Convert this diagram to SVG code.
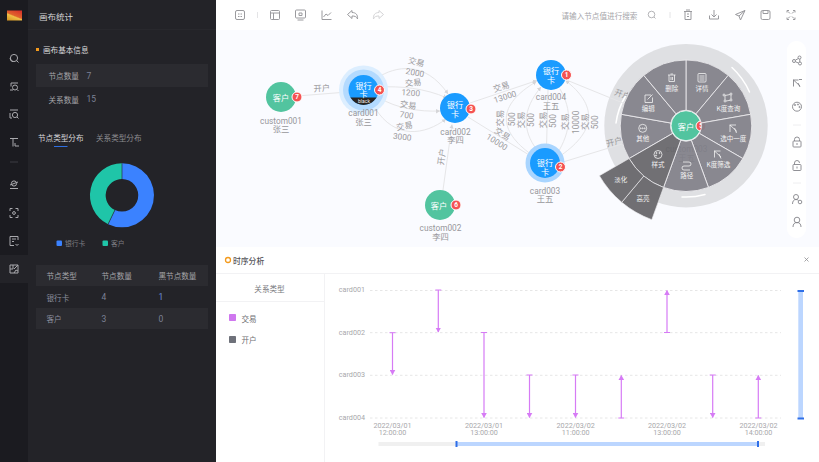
<svg xmlns="http://www.w3.org/2000/svg" width="819" height="462" viewBox="0 0 819 462">
<style>
text{font-family:"Noto Sans CJK SC","Noto Sans",sans-serif;text-anchor:middle;dominant-baseline:central}
.lat{font-family:"Roboto","Noto Sans CJK SC",sans-serif}
.l{text-anchor:start}
.side{font-size:7.6px;fill:#a5a5a9}
.val{font-size:8.5px;fill:#7d8296}
.bright{fill:#d8d8da}
.rail{fill:none;stroke:#a9a9ad;stroke-width:1}
.tool{fill:none;stroke:#9a9a9e;stroke-width:1}
.rt{fill:none;stroke:#85858a;stroke-width:.9}
.edge{fill:none;stroke:#e6e6e8;stroke-width:1;marker-end:url(#ah)}
.el{font-size:8.3px;fill:#9a9a9d}
.nl{font-size:8.3px;fill:#97979b}
.nt{font-size:8.2px;fill:#fff}
.blue{fill:#1a9bff}
.green{fill:#52c49f}
.badge{fill:#f55353;stroke:#fff;stroke-width:1}
.bt{font-size:6.5px;fill:#fff;font-weight:700}
.sec{fill:#82818a;fill-opacity:.93;stroke:#ecebee;stroke-width:.8}
.sec2{fill:#68676c;fill-opacity:.95;stroke:#ecebee;stroke-width:.6}
.mt{font-size:6.5px;fill:#f2f2f2}
.mi{fill:none;stroke:#f2f2f2;stroke-width:.8}
.grid{stroke:#e6e6e6;stroke-width:1;stroke-dasharray:2.5 2.5}
.seq{stroke:#d67bf5;stroke-width:1.2;fill:none;marker-start:url(#cap);marker-end:url(#seqh)}
.ax{font-size:7.2px;fill:#a8a8ab;font-family:"Roboto","Noto Sans CJK SC",sans-serif}
.ay{font-size:7.2px;fill:#a8a8ab;text-anchor:end;font-family:"Roboto",sans-serif}
</style>
<defs>
<marker id="ah" markerUnits="userSpaceOnUse" markerWidth="6" markerHeight="6" refX="4" refY="3" orient="auto"><path d="M0 .8L4 3L0 5.2Z" fill="#d5d5d8"/></marker>
<marker id="seqh" markerUnits="userSpaceOnUse" markerWidth="6" markerHeight="6" refX="4.500" refY="3" orient="auto"><path d="M0 .2L5 3L0 5.800Z" fill="#d67bf5"/></marker>
<marker id="cap" markerUnits="userSpaceOnUse" markerWidth="2" markerHeight="7" refX="1" refY="3.500" orient="auto"><path d="M1 .5V6.500" stroke="#d67bf5" fill="none"/></marker>
<linearGradient id="logo" x1="0.8" y1="0" x2="0.2" y2="1"><stop offset="0" stop-color="#d9342b"/><stop offset=".5" stop-color="#e0632c"/><stop offset=".6" stop-color="#f0c048"/><stop offset="1" stop-color="#d99a25"/></linearGradient>
<clipPath id="bandclip"><circle cx="363.500" cy="90" r="15"/></clipPath>
<path id="s" d="M0 -15.500L0 -65.700A65.700 65.700 0 0 1 42.230 -50.330L9.960 -11.870A15.500 15.500 0 0 0 0 -15.500Z"/>
<path id="s2" d="M0 -65.700L0 -100A100 100 0 0 1 34.200 -93.970L22.470 -61.740A65.700 65.700 0 0 0 0 -65.700Z"/>
</defs>

<rect width="819" height="462" fill="#fff"/>
<rect x="216" y="30" width="603" height="217" fill="#fafbff"/>

<g id="rail">
<rect width="28" height="462" fill="#1b1b20"/>
<rect y="255" width="28" height="28" fill="#232328"/>
<rect x="7" y="10.500" width="15" height="10" fill="url(#logo)"/>
<g class="rail">
<circle cx="14" cy="58" r="3.600"/><path d="M10 58a4 4 0 0 0 3 3.800M16.500 60.500l2 2"/>
<path d="M18 83H11v3.500M10 90h3"/><circle cx="15" cy="87.500" r="2.500"/><path d="M17 89.500l1.500 1.500"/>
<path d="M10 110h8M10 113v5M10 118h2"/><circle cx="15" cy="115" r="2.600"/><path d="M17 117l1.500 1.500"/>
<path d="M10 138.500h8M13 138.500v8M15 143v3h4"/>
<path d="M10 162h8" stroke="#3c3c42"/>
<circle cx="14" cy="183.500" r="2.600"/><path d="M10 185l8-3M10 188.500h8"/>
<path d="M10 211v-2.500h2.500M18 211v-2.500h-2.500M10 215v2.500h2.500M18 215v2.500h-2.500"/><circle cx="14" cy="213" r="1.400"/>
<path d="M18 240v-3.500h-8v9h4M12 239h4M12 241.500h2"/><path d="M15.500 244l1.500 1.500 1.500-1.500"/>
<path d="M10 265h8v8h-8zM10 269h3v-4M14 269l4-4M14 273l2-3 2 1"/>
</g>
</g>

<g id="panel">
<rect x="28" width="188" height="462" fill="#232328"/>
<path d="M28 29.500H216" stroke="#28282d"/>
<text class="l" x="39" y="15.500" font-size="8.500" fill="#d4d4d6">画布统计</text>
<rect x="36" y="48" width="3" height="3" fill="#f39a1d"/>
<text class="l side bright" x="43" y="49.500">画布基本信息</text>
<rect x="36" y="64" width="172" height="23" fill="#2b2b30"/>
<text class="l side" x="48.500" y="75.500">节点数量</text><text class="l val lat" x="86.500" y="75.500">7</text>
<text class="l side" x="48.500" y="99">关系数量</text><text class="l val lat" x="86.500" y="99">15</text>
<text class="l side bright" x="38" y="137">节点类型分布</text>
<text class="l side" x="96" y="137" style="fill:#8d8d91">关系类型分布</text>
<rect x="54" y="146" width="13.500" height="1" fill="#2f6fe0"/>
<path d="M122 163.300A32 32 0 1 1 108.120 224.130L114.930 209.990A16.300 16.300 0 1 0 122 179Z" fill="#3b82ff"/>
<path d="M108.120 224.130A32 32 0 0 1 122 163.300L122 179A16.300 16.300 0 0 0 114.930 209.990Z" fill="#1fc5a8"/>
<path d="M122 163.300V179M108.120 224.130L114.930 209.990" stroke="#232328" stroke-width=".6"/>
<rect x="56.500" y="240.500" width="5.500" height="5.500" rx="1" fill="#3b82ff"/>
<text class="l" x="65" y="243" font-size="6.800" fill="#7d7d82">银行卡</text>
<rect x="102.500" y="240.500" width="5.500" height="5.500" rx="1" fill="#1fc5a8"/>
<text class="l" x="111" y="243" font-size="6.800" fill="#7d7d82">客户</text>
<rect x="36" y="265" width="172" height="21" fill="#2b2b30"/>
<rect x="36" y="308" width="172" height="21" fill="#2b2b30"/>
<text class="l side" x="46.500" y="275.500">节点类型</text><text class="l side" x="101.500" y="275.500">节点数量</text><text class="l side" x="158.500" y="275.500">黑节点数量</text>
<text class="l side" x="46.500" y="297" style="fill:#8a8e9e">银行卡</text><text class="l val lat" x="101.500" y="297">4</text><text class="l val lat" x="158.500" y="297" style="fill:#6c8bd6">1</text>
<text class="l side" x="46.500" y="318.500" style="fill:#8a8e9e">客户</text><text class="l val lat" x="101.500" y="318.500">3</text><text class="l val lat" x="158.500" y="318.500">0</text>
</g>

<g id="toolbar">
<g class="tool">
<rect x="235.500" y="10.500" width="9" height="9" rx="1.500"/><path d="M238 14h1.500M240.500 14h1.500M238 16.500h1.500M240.500 16.500h1.500"/>
<path d="M257.500 12v6" stroke="#e4e4e6"/>
<rect x="270.500" y="10.500" width="9" height="9" rx="1"/><path d="M270.500 13h9M273.500 13v6.500"/>
<rect x="295.500" y="10" width="10" height="8" rx="1"/><path d="M297.500 20h6M299 13h3v2.500h-3z"/>
<path d="M322 10.500v9h9.500M323.500 17l2.500-3 2 1.500 3-3"/>
<path d="M352 10.500l-4.500 4 4.500 4v-2.500c2.500 0 5 .5 5.500 3 .5-4-1.500-6.500-5.500-6.500z"/>
<path stroke="#d4d4d6" d="M379 10.500l4.500 4-4.500 4v-2.500c-2.500 0-5 .5-5.500 3-.5-4 1.500-6.500 5.500-6.500z"/>
<circle cx="651.500" cy="14.500" r="3.300" stroke="#b5b5b8"/><path stroke="#b5b5b8" d="M654 17l1.500 1.500"/>
<path stroke="#e4e4e6" d="M670 12v6"/>
<path d="M684 11.500h8M685 11.500v8h6v-8M686 10h4M687 14h2M687 16.500h2"/>
<path d="M714 10v6.500M711.500 14.500l2.500 2.500 2.500-2.500M709.500 15.500v3.500h9v-3.500"/>
<path d="M745 10.500l-9.500 4 3.500 1.500 1.500 4zM739 16l6-5.500"/>
<rect x="761" y="10.500" width="9" height="9" rx="1.500"/><path d="M763 10.500v3h5v-3"/>
<path d="M787 12.500v-2h2M795 12.500v-2h-2M787 17.500v2h2M795 17.500v2h-2M788 11.500l2 2M794 11.500l-2 2M788 18.500l2-2M794 18.500l-2-2"/>
</g>
<text class="l" x="561.500" y="15" font-size="7.600" fill="#a6a6aa">请输入节点值进行搜索</text>
</g>

<g id="menu-ring">
<circle cx="686" cy="125.700" r="81.700" fill="#dfe0e3"/>
<g fill="none" stroke="#fff" stroke-width="1.500" stroke-linecap="round">
<path d="M732 67.500A74 74 0 0 1 749.500 92"/>
<path d="M625.500 96A70 70 0 0 0 616 123"/>
<path d="M682 197A71 71 0 0 0 705 194.500"/>
</g>
</g>

<g id="connectors">
<path class="edge" d="M297 96L347.500 92"/>
<path class="edge" d="M377 78C395 66 425 60 448 94"/>
<path class="edge" d="M379 87C400 86 425 88 447 98"/>
<path class="edge" d="M380 98C395 108 420 112 440 111"/>
<path class="edge" d="M375 108C395 140 425 135 446 119"/>
<path class="edge" d="M443 190L452 124.500"/>
<path class="edge" d="M470 103L537 80.500"/>
<path class="edge" d="M468 117L531.500 156.500"/>
<path class="edge" d="M532 155C497 130 497 105 536.500 81.500"/>
<path class="edge" d="M537 150C522 130 522 110 541 87"/>
<path class="edge" d="M548 90L546.500 148"/>
<path class="edge" d="M560 89C572 110 572 130 556.500 155"/>
<path class="edge" d="M561.500 155C597 130 597 105 565.500 80.500"/>
<path class="edge" d="M566.500 80L672 123"/>
<path class="edge" d="M563 162L671 129"/>
<g class="el">
<text x="321.700" y="87.300" transform="rotate(-4 321.700 87.300)">开户</text>
<text x="416.500" y="61" transform="rotate(15 416.500 61)">交易</text>
<text x="415" y="72.500" transform="rotate(10 415 72.500)" class="lat">2000</text>
<text x="413" y="81.700" transform="rotate(-6 413 81.700)">交易</text>
<text x="410.700" y="92.700" transform="rotate(4 410.700 92.700)" class="lat">1200</text>
<text x="408.300" y="104" transform="rotate(8 408.300 104)">交易</text>
<text x="406.700" y="115" transform="rotate(8 406.700 115)" class="lat">700</text>
<text x="404.300" y="125" transform="rotate(-10 404.300 125)">交易</text>
<text x="402.300" y="136.700" transform="rotate(6 402.300 136.700)" class="lat">3000</text>
<text x="440.700" y="156.700" transform="rotate(-82 440.700 156.700)">开户</text>
<text x="501" y="86" transform="rotate(-18 501 86)">交易</text>
<text x="505" y="96.700" transform="rotate(-18 505 96.700)" class="lat">13000</text>
<text x="503" y="133" transform="rotate(32 503 133)">交易</text>
<text x="497" y="142" transform="rotate(32 497 142)" class="lat">10000</text>
<text x="499.300" y="118.300" transform="rotate(-90 499.300 118.300)">交易</text>
<text x="511.700" y="119.300" transform="rotate(-90 511.700 119.300)" class="lat">500</text>
<text x="520" y="120" transform="rotate(-90 520 120)">交易</text>
<text x="530.700" y="120" transform="rotate(-90 530.700 120)" class="lat">500</text>
<text x="541.700" y="120" transform="rotate(-90 541.700 120)">交易</text>
<text x="553.300" y="121" transform="rotate(-90 553.300 121)" class="lat">500</text>
<text x="564" y="121.700" transform="rotate(-90 564 121.700)">交易</text>
<text x="575.700" y="122.300" transform="rotate(-90 575.700 122.300)" class="lat">10000</text>
<text x="584" y="121.700" transform="rotate(-90 584 121.700)">交易</text>
<text x="595" y="122.300" transform="rotate(-90 595 122.300)" class="lat">500</text>
<text x="623" y="93.500" transform="rotate(20 623 93.500)">开户</text>
<text x="614" y="141" transform="rotate(-15 614 141)">开户</text>
</g>
</g>

<g id="custom001">
<circle class="green" cx="281" cy="97" r="15"/>
<text class="nt" x="281" y="96.500">客户</text>
<circle class="badge" cx="297" cy="97" r="5"/><text class="bt lat" x="297" y="97">7</text>
<text class="nl lat" x="281" y="120.500"><tspan x="281">custom001</tspan><tspan x="281" dy="8.300">张三</tspan></text>
</g>
<g id="card001">
<circle cx="363.500" cy="90" r="24.500" fill="#dceeff"/>
<circle cx="363.500" cy="90" r="20.500" fill="#b3daff"/>
<circle class="blue" cx="363.500" cy="90" r="15"/>
<rect x="348" y="97.500" width="31" height="8" fill="#2a2420" clip-path="url(#bandclip)"/>
<text class="nt" x="363.500" y="85"><tspan x="363.500">银行</tspan><tspan x="363.500" dy="8">卡</tspan></text>
<text class="lat" x="364" y="101.200" font-size="5" fill="#f0f0f0">black</text>
<circle class="badge" cx="379.500" cy="90" r="5"/><text class="bt lat" x="379.500" y="90">4</text>
<text class="nl lat" x="363.500" y="112.700"><tspan x="363.500">card001</tspan><tspan x="363.500" dy="8.800">张三</tspan></text>
</g>
<g id="card002">
<circle class="blue" cx="455" cy="108" r="15"/>
<text class="nt" x="455" y="103.500"><tspan x="455">银行</tspan><tspan x="455" dy="9">卡</tspan></text>
<circle class="badge" cx="471" cy="109" r="5"/><text class="bt lat" x="471" y="109">3</text>
<text class="nl lat" x="455.500" y="131.700"><tspan x="455.500">card002</tspan><tspan x="455.500" dy="8.500">李四</tspan></text>
</g>
<g id="card004">
<circle class="blue" cx="551" cy="75" r="15"/>
<text class="nt" x="551" y="70"><tspan x="551">银行</tspan><tspan x="551" dy="9">卡</tspan></text>
<circle class="badge" cx="566.500" cy="75" r="5"/><text class="bt lat" x="566.500" y="75">1</text>
<text class="nl lat" x="551" y="97.300"><tspan x="551">card004</tspan><tspan x="551" dy="9">王五</tspan></text>
</g>
<g id="card003">
<circle cx="545" cy="163" r="19.500" fill="#a9d5ff"/>
<circle class="blue" cx="545" cy="163" r="15"/>
<text class="nt" x="545" y="162"><tspan x="545">银行</tspan><tspan x="545" dy="9">卡</tspan></text>
<circle class="badge" cx="560.500" cy="167" r="5"/><text class="bt lat" x="560.500" y="167">2</text>
<text class="nl lat" x="545" y="190.700"><tspan x="545">card003</tspan><tspan x="545" dy="8.500">王五</tspan></text>
</g>
<g id="custom002">
<circle class="green" cx="440" cy="205" r="15"/>
<text class="nt" x="439" y="204.500">客户</text>
<circle class="badge" cx="456" cy="205" r="5"/><text class="bt lat" x="456" y="205">6</text>
<text class="nl lat" x="440.500" y="228.300"><tspan x="440.500">custom002</tspan><tspan x="440.500" dy="8.400">李四</tspan></text>
</g>
<g id="custom003">
<text class="nl lat" x="686.500" y="149" style="fill:#6a6a6e"><tspan x="686.500">custom003</tspan><tspan x="686.500" dy="8.500">王五</tspan></text>
<circle class="green" cx="686" cy="125.700" r="15" stroke="#fff" stroke-width=".8"/>
<text class="nt" x="686" y="125.500">客户</text>
<circle class="badge" cx="701" cy="126" r="5"/><text class="bt lat" x="701" y="126">5</text>
</g>

<g id="radial-menu">
<g class="sec" transform="translate(686 125.700)">
<use href="#s"/><use href="#s" transform="rotate(40)"/><use href="#s" transform="rotate(80)"/><use href="#s" transform="rotate(120)"/><use href="#s" transform="rotate(160)"/><use href="#s" transform="rotate(240)"/><use href="#s" transform="rotate(280)"/><use href="#s" transform="rotate(320)"/>
<use href="#s" transform="rotate(200)" style="fill:#68676c"/>
</g>
<g class="sec2" transform="translate(686 125.700)">
<use href="#s2" transform="rotate(200)"/><use href="#s2" transform="rotate(220)"/>
</g>
<g class="mi">
<path d="M668 75h7.500M669 75v6.500h5.500V75M670.500 74h2.500M671 77v3M672.500 77v3"/>
<rect x="698" y="73.500" width="8" height="8.500" rx="1"/><path d="M699.500 76h5M699.500 78h5M699.500 80h5"/>
<circle cx="724" cy="95" r="1"/><circle cx="731" cy="94" r="1"/><circle cx="725" cy="101" r="1"/><circle cx="731" cy="100" r="1"/><path d="M725 95.500L730 94.500M725 96L725 100M726 101L730 100.300M731 95V99"/>
<path d="M729.500 125h6.500M730 125v7M730 125l7 6.500M734.500 128l2 5"/>
<path d="M714 151h6.500M714.500 151v6.500M714.500 151l6.500 6M719 154l2 4.500"/>
<path d="M683 162h6a2 2 0 0 1 0 4h-5a2 2 0 0 0 0 4h6"/>
<circle cx="658" cy="154.500" r="4"/><circle cx="656.500" cy="153" r=".6"/><circle cx="659.500" cy="153" r=".6"/><circle cx="656" cy="155.500" r=".6"/>
<circle cx="642.700" cy="128.300" r="4"/><circle cx="640.700" cy="128.300" r=".5"/><circle cx="642.700" cy="128.300" r=".5"/><circle cx="644.700" cy="128.300" r=".5"/>
<path d="M651 95h-6v7.500h7.500v-5M647.500 99.500l5-5"/>
</g>
<text class="mt" x="671.700" y="88.300">删除</text>
<text class="mt" x="702" y="88.300">详情</text>
<text class="mt" x="728.300" y="108">K度查询</text>
<text class="mt" x="733.300" y="138.300">选中一度</text>
<text class="mt" x="718.300" y="164.300">K度筛选</text>
<text class="mt" x="686.700" y="175">路径</text>
<text class="mt" x="658" y="164.300">样式</text>
<text class="mt" x="642.700" y="138.300">其他</text>
<text class="mt" x="648.300" y="108">编辑</text>
<text class="mt" x="620.700" y="179">淡化</text>
<text class="mt" x="643" y="197.700">高亮</text>
</g>

<g id="side-tools">
<rect x="787" y="41" width="19" height="197" rx="9" fill="#fff"/>
<g class="rt">
<circle cx="794" cy="61" r="1.500"/><circle cx="799.500" cy="57.500" r="1.500"/><circle cx="800" cy="63.500" r="1.500"/><path d="M795.500 60L798.500 58.500M795.500 61.800L798.500 63M799.800 59V62"/>
<path d="M793 80h5.500M793.500 80v6.500M793.500 80l6.500 6M798 83l2 4M799 79.500h3"/>
<circle cx="797" cy="106.700" r="4.500"/><circle cx="795" cy="105" r=".6"/><circle cx="798" cy="104.500" r=".6"/><circle cx="799.500" cy="107" r=".6"/>
<path d="M793 125h8" stroke="#ececee"/>
<rect x="793" y="141" width="8" height="6" rx=".8"/><path d="M794.500 141v-1.500a2.500 2.500 0 0 1 5 0V141M797 143v2"/>
<rect x="793" y="164.500" width="8" height="6" rx=".8"/><path d="M794.500 164.500v-1.500a2.500 2.500 0 0 1 5 0M797 166.500v2"/>
<path d="M793 183h8" stroke="#ececee"/>
<circle cx="796" cy="197" r="2.500"/><path d="M792.500 204c0-3 1.500-4.500 3.500-4.500 1 0 1.800.3 2.500 1"/><circle cx="800" cy="202" r="1.800"/>
<circle cx="797" cy="220" r="2.800"/><path d="M793 227c0-3 1.500-4.500 4-4.500s4 1.500 4 4.500"/>
</g>
</g>

<g id="timeline">
<rect x="216" y="247" width="603" height="215" fill="#fff"/>
<path d="M216 273.500H819M324.500 273.500V462M216 301.500H324.500" stroke="#f2f2f4" fill="none"/>
<circle cx="228" cy="260" r="2.500" fill="none" stroke="#f39a1d" stroke-width="1.300"/>
<text class="l" x="233" y="260.500" font-size="7.800" fill="#55555a" font-weight="500">时序分析</text>
<path d="M804.500 257.500l4 4M808.500 257.500l-4 4" stroke="#8f8f93" fill="none" stroke-width=".8"/>
<text x="269.500" y="288" font-size="7.600" fill="#77777c">关系类型</text>
<rect x="229" y="314" width="7" height="7" rx=".8" fill="#cf77ef"/>
<text class="l" x="241.500" y="318" font-size="7.600" fill="#6f6f74">交易</text>
<rect x="229" y="336" width="7" height="7" rx=".8" fill="#6e717a"/>
<text class="l" x="241.500" y="339.500" font-size="7.600" fill="#6f6f74">开户</text>
<path class="grid" d="M370 290.500H781"/><path class="grid" d="M370 332.700H781"/><path class="grid" d="M370 375.300H781"/><path class="grid" d="M370 418H781"/>
<text class="ay" x="365" y="289.500">card001</text>
<text class="ay" x="365" y="332">card002</text>
<text class="ay" x="365" y="374.500">card003</text>
<text class="ay" x="365" y="417.500">card004</text>
<path class="seq" d="M392.500 332.700V374.500"/>
<path class="seq" d="M438.300 290V332"/>
<path class="seq" d="M484 332.500V417.500"/>
<path class="seq" d="M529.500 375V417.500"/>
<path class="seq" d="M575.500 375V417.500"/>
<path class="seq" d="M621.300 418V375.500"/>
<path class="seq" d="M667 332.500V290.500"/>
<path class="seq" d="M712.700 375V417.500"/>
<path class="seq" d="M758.300 418V375.500"/>
<text class="ax" x="392.500" y="425"><tspan x="392.500">2022/03/01</tspan><tspan x="392.500" dy="6.500">12:00:00</tspan></text>
<text class="ax" x="484" y="425"><tspan x="484">2022/03/01</tspan><tspan x="484" dy="6.500">13:00:00</tspan></text>
<text class="ax" x="575.700" y="425"><tspan x="575.700">2022/03/02</tspan><tspan x="575.700" dy="6.500">11:00:00</tspan></text>
<text class="ax" x="667" y="425"><tspan x="667">2022/03/02</tspan><tspan x="667" dy="6.500">13:00:00</tspan></text>
<text class="ax" x="758.500" y="425"><tspan x="758.500">2022/03/02</tspan><tspan x="758.500" dy="6.500">14:00:00</tspan></text>
<rect x="378.500" y="442" width="386.500" height="4" fill="#f0f0f0"/>
<rect x="456" y="442" width="301.500" height="4" fill="#bcd6ff"/>
<rect x="455.500" y="441" width="2" height="6" fill="#2f6fe8"/>
<rect x="757" y="441" width="2" height="6" fill="#2f6fe8"/>
<rect x="798.300" y="290.500" width="4.700" height="128" fill="#bcd6ff"/>
<rect x="797.500" y="290" width="6.500" height="2" fill="#2f6fe8"/>
<rect x="797.500" y="417.500" width="6.500" height="2" fill="#2f6fe8"/>
</g>
</svg>
